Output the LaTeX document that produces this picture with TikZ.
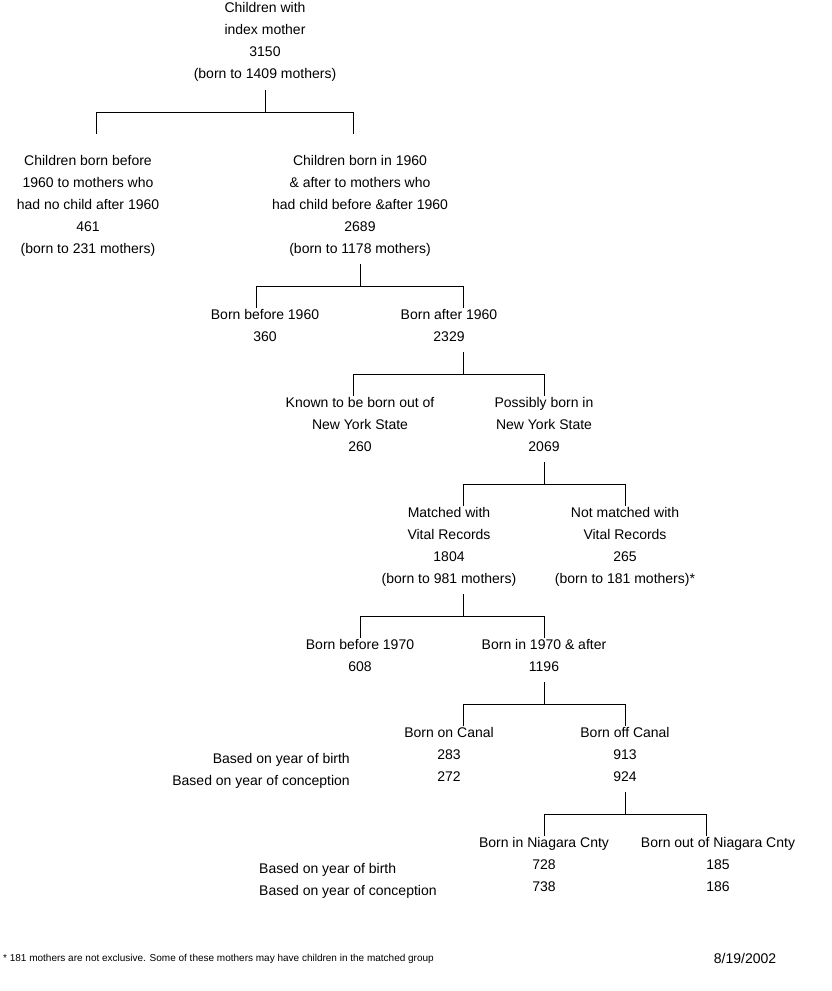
\documentclass[tikz,border=0pt]{standalone}
\usepackage{fontspec}
\setmainfont{Liberation Sans}
\usetikzlibrary{positioning}

\begin{document}
\begin{tikzpicture}[x=1pt, y=-1pt,
    box/.style={align=center, inner sep=0pt, anchor=north, font=\fontsize{14}{22}\selectfont, text depth=0pt},
    lbl/.style={inner sep=0pt, font=\fontsize{14}{22}\selectfont},
    tree/.style={line width=0.8pt}]
    \useasboundingbox (0,0) rectangle (831,991);

    % bracket: stem x, top y, left x, right x
    \newcommand{\bracket}[4]{%
        \draw[tree] (#1,#2) -- (#1,#2+22);
        \draw[tree] (#3,#2+44) |- (#4,#2+22) -- (#4,#2+44);}

    %Nodes
    \node[box] (root)    at (265,2)   {Children with\\index mother\\3150\\(born to 1409 mothers)};
    \node[box] (before)  at (88,155)  {Children born before\\1960 to mothers who\\had no child after 1960\\461\\(born to 231 mothers)};
    \node[box] (inafter) at (360,155) {Children born in 1960\\\& after to mothers who\\had child before \&after 1960\\2689\\(born to 1178 mothers)};
    \node[box] (b60)     at (265,309) {Born before 1960\\360};
    \node[box] (a60)     at (449,309) {Born after 1960\\2329};
    \node[box] (outny)   at (360,397) {Known to be born out of\\New York State\\260};
    \node[box] (inny)    at (544,397) {Possibly born in\\New York State\\2069};
    \node[box] (match)   at (449,507) {Matched with\\Vital Records\\1804\\(born to 981 mothers)};
    \node[box] (nomatch) at (625,507) {Not matched with\\Vital Records\\265\\(born to 181 mothers)*};
    \node[box] (b70)     at (360,639) {Born before 1970\\608};
    \node[box] (a70)     at (544,639) {Born in 1970 \& after\\1196};
    \node[box] (on)      at (449,727) {Born on Canal\\283\\272};
    \node[box] (off)     at (625,727) {Born off Canal\\913\\924};
    \node[box] (inn)     at (544,837) {Born in Niagara Cnty\\728\\738};
    \node[box] (outn)    at (718,837) {Born out of Niagara Cnty\\185\\186};

    %Row labels
    \node[lbl, anchor=east] (yb1) at (350,760) {Based on year of birth};
    \node[lbl, anchor=east] (yc1) at (350,782) {Based on year of conception};
    \node[lbl, anchor=west] (yb2) at (259,870) {Based on year of birth};
    \node[lbl, anchor=west] (yc2) at (259,892) {Based on year of conception};

    %Footnote
    \node[lbl, anchor=west, font=\fontsize{10}{12}\selectfont] (note) at (3,959)
        {* 181 mothers are not exclusive. Some of these mothers may have children in the matched group};
    \node[lbl] (date) at (745,958) {8/19/2002};

    %Lines
    \bracket{265}{90}{96}{353}
    \bracket{360}{264}{256}{463}
    \bracket{463}{352}{353}{544}
    \bracket{544}{462}{463}{625}
    \bracket{463}{594}{360}{544}
    \bracket{544}{682}{463}{625}
    \bracket{625}{792}{544}{706}

\end{tikzpicture}
\end{document}
